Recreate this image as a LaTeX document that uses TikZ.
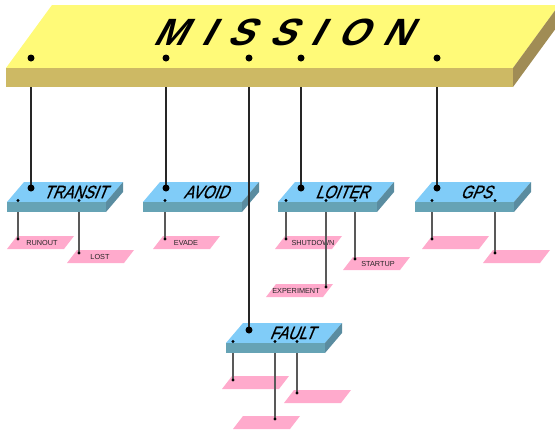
\documentclass[tikz,border=0pt]{standalone}
\usepackage{fontspec}
\setmainfont{Liberation Sans}
\newfontfamily\titlefont{Liberation Sans Bold}[FakeSlant=0.55,LetterSpace=42]
\newfontfamily\boxfont{Liberation Sans}[FakeSlant=0.5,FakeBold=0.8]
\definecolor{missiontop}{HTML}{FFFA78}
\definecolor{missionfront}{HTML}{CDB964}
\definecolor{missionside}{HTML}{A08C55}
\definecolor{boxtop}{HTML}{80CCF8}
\definecolor{boxfront}{HTML}{66A3B5}
\definecolor{boxside}{HTML}{5A8CA0}
\definecolor{tagpink}{HTML}{FFAACC}

\begin{document}
\begin{tikzpicture}[x=1pt,y=-1pt]
        \tikzset{trunk/.style = {line width=2pt,black!85}}
        \tikzset{branch/.style = {line width=1.1pt,black!65}}
        \tikzset{boxlabel/.style = {font=\boxfont\fontsize{18}{18}\selectfont,xscale=0.82,inner sep=0}}
        \tikzset{taglabel/.style = {font=\fontsize{7.3}{7.3}\selectfont,text=black!85,inner sep=0}}
        \tikzset{pics/tag/.style = {code={\fill[tagpink] (0,0) -- (57,0) -- (67,-13) -- (10,-13) -- cycle;}}}
        \tikzset{pics/slab/.style = {code={
            \fill[boxtop] (0,0) -- (99,0) -- (116,-20) -- (17,-20) -- cycle;
            \fill[boxfront] (0,0) rectangle (99,10);
            \fill[boxside] (99,0) -- (116,-20) -- (116,-10) -- (99,10) -- cycle;}}}

        \useasboundingbox (0,0) rectangle (555,432);
        \clip (0,0) rectangle (555,432);

        % dots on the mission slab
        \coordinate (m-transit) at (31,58);
        \coordinate (m-avoid) at (166,58);
        \coordinate (m-fault) at (249,58);
        \coordinate (m-loiter) at (301,58);
        \coordinate (m-gps) at (437,58);

        % dots on the blue slabs
        \coordinate (transit) at (31,188);
        \coordinate (avoid) at (166,188);
        \coordinate (loiter) at (301,188);
        \coordinate (gps) at (437,188);
        \coordinate (fault) at (249,330);
        \coordinate (transit-a) at (18,200.5);
        \coordinate (transit-b) at (79,200.5);
        \coordinate (avoid-a) at (165,200.5);
        \coordinate (loiter-a) at (286,200.5);
        \coordinate (loiter-b) at (326,200.5);
        \coordinate (loiter-c) at (355,200.5);
        \coordinate (gps-a) at (432,200.5);
        \coordinate (gps-b) at (495,200.5);
        \coordinate (fault-a) at (233,341.5);
        \coordinate (fault-b) at (275,341.5);
        \coordinate (fault-c) at (297,341.5);

        % dots on the pink tags
        \coordinate (runout) at (18,239);
        \coordinate (lost) at (79,253);
        \coordinate (evade) at (165,239);
        \coordinate (shutdown) at (286,239);
        \coordinate (startup) at (355,259);
        \coordinate (experiment) at (326,287);
        \coordinate (gps-1) at (432,239);
        \coordinate (gps-2) at (495,253);
        \coordinate (fault-1) at (233,380);
        \coordinate (fault-2) at (297,393);
        \coordinate (fault-3) at (275,419);

        % pink tags
        \pic at (7,249) {tag};
        \pic at (67,263) {tag};
        \pic at (153,249) {tag};
        \pic at (275,249) {tag};
        \pic at (343,270) {tag};
        \pic at (266,297) {tag};
        \pic at (422,249) {tag};
        \pic at (483,263) {tag};
        \pic at (222,389) {tag};
        \pic at (284,403) {tag};
        \pic at (233,429) {tag};

        \node[taglabel] (runout-l) at (42,243) {RUNOUT};
        \node[taglabel] (lost-l) at (100,257) {LOST};
        \node[taglabel] (evade-l) at (186,243) {EVADE};
        \node[taglabel] (shutdown-l) at (313,243) {SHUTDOWN};
        \node[taglabel] (startup-l) at (378,264) {STARTUP};
        \node[taglabel] (experiment-l) at (296,291) {EXPERIMENT};

        \draw[branch] (transit-a) -- (runout);
        \draw[branch] (transit-b) -- (lost);
        \draw[branch] (avoid-a) -- (evade);
        \draw[branch] (loiter-a) -- (shutdown);
        \draw[branch] (loiter-b) -- (experiment);
        \draw[branch] (loiter-c) -- (startup);
        \draw[branch] (gps-a) -- (gps-1);
        \draw[branch] (gps-b) -- (gps-2);
        \draw[branch] (fault-a) -- (fault-1);
        \draw[branch] (fault-b) -- (fault-3);
        \draw[branch] (fault-c) -- (fault-2);

        \foreach \c in {runout,lost,evade,shutdown,startup,experiment,gps-1,gps-2,fault-1,fault-2,fault-3}
            \fill (\c) circle (1.7pt);

        % blue slabs
        \pic at (7,202) {slab};
        \pic at (143,202) {slab};
        \pic at (278,202) {slab};
        \pic at (415,202) {slab};
        \pic at (226,343) {slab};

        \node[boxlabel] (transit-l) at (75,192) {TRANSIT};
        \node[boxlabel] (avoid-l) at (206,192) {AVOID};
        \node[boxlabel] (loiter-l) at (342,192) {LOITER};
        \node[boxlabel] (gps-l) at (476,192) {GPS};
        \node[boxlabel] (fault-l) at (292,333) {FAULT};

        \foreach \c in {transit-a,transit-b,avoid-a,loiter-a,loiter-b,loiter-c,gps-a,gps-b,fault-a,fault-b,fault-c}
            \fill (\c) circle (1.6pt);

        \draw[trunk] (m-transit) -- (transit);
        \draw[trunk] (m-avoid) -- (avoid);
        \draw[trunk] (m-fault) -- (fault);
        \draw[trunk] (m-loiter) -- (loiter);
        \draw[trunk] (m-gps) -- (gps);

        \foreach \c in {transit,avoid,loiter,gps,fault}
            \fill (\c) circle (3.5pt);

        % mission slab
        \fill[missiontop] (6,68) -- (513,68) -- (559,5) -- (52,5) -- cycle;
        \fill[missionfront] (6,68) rectangle (513,87);
        \fill[missionside] (513,68) -- (559,5) -- (559,24) -- (513,87) -- cycle;
        \node[font=\titlefont\fontsize{38}{38}\selectfont,inner sep=0] (mission) at (281,32) {MISSION};

        \foreach \c in {m-transit,m-avoid,m-fault,m-loiter,m-gps}
            \fill (\c) circle (3.5pt);
\end{tikzpicture}
\end{document}
